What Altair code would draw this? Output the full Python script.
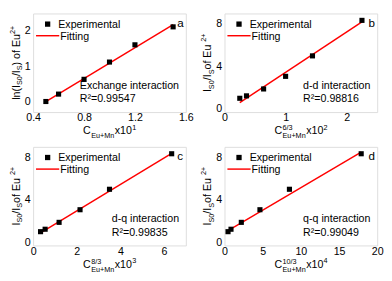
import altair as alt
import pandas as pd

FONT = "Liberation Sans"

# ---- data ----
conc_a = [0.5, 0.6, 0.8, 1.0, 1.2, 1.5]          # C(Eu+Mn) x10^1
ln_ratio = [0.0, 0.21, 0.63, 1.12, 1.61, 2.12]   # ln(Is0/Is)
conc_b = [0.25, 0.36, 0.64, 1.0, 1.44, 2.25]     # C^(6/3) x10^2
conc_c = [0.34, 0.55, 1.19, 2.15, 3.50, 6.35]    # C^(8/3) x10^3
conc_d = [0.46, 0.85, 2.2, 4.64, 8.5, 17.9]      # C^(10/3) x10^4
ratio = [1.0, 1.23, 1.88, 3.07, 5.0, 8.35]       # Is0/Is

fit_a_x = [0.5, 1.5]
fit_a_y = [0.0, 2.18]
fit_b_x = [0.25, 2.25]
fit_b_y = [0.6, 8.2]
fit_c_x = [0.34, 6.35]
fit_c_y = [0.88, 8.38]
fit_d_x = [0.46, 17.9]
fit_d_y = [1.1, 8.5]

interactions = ["Exchange interaction", "d-d interaction", "d-q interaction", "q-q interaction"]
r2_values = ["0.99547", "0.98816", "0.99835", "0.99049"]
letters = ["a", "b", "c", "d"]
x_domains = [[0.4, 1.6], [0, 2.5], [0, 7], [0, 20]]
x_ticks = [[0.4, 0.8, 1.2, 1.6], [0, 1, 2], [0, 2, 4, 6], [0, 5, 10, 15, 20]]
x_formats = [".1f", "d", "d", "d"]
y_domains = [[-0.3, 2.5], [-0.3, 9], [-0.3, 9], [-0.3, 9]]
y_ticks = [[0, 1, 2], [0, 4, 8], [0, 4, 8], [0, 4, 8]]
x_exponents = ["", "6/3", "8/3", "10/3"]
x_powers = ["1", "2", "3", "4"]
legend_labels = ["Experimental", "Fitting"]

W_PX = 158
H_PX = 102
MAIN = 11
SMALL = 7.5

CW = {'C': 722, 'E': 667, 'u': 556, '+': 584, 'M': 833, 'n': 556, 'x': 500,
      '/': 278, 'l': 222, '(': 333, ')': 333, 'I': 278, 'S': 667, 'o': 556,
      'f': 278, ' ': 278, '-': 333, 'd': 556, 'q': 556, 'i': 222, 't': 278,
      'e': 556, 'r': 333, 'a': 556, 'c': 500, 'h': 556, 'g': 556}


def tw(s, size):
    return sum(CW.get(ch, 556) for ch in s) * size / 1000.0


one = pd.DataFrame({"k": [0]})


def txt(s, x, y, size=MAIN, align="left", baseline="alphabetic", angle=0, color="black"):
    return alt.Chart(one).mark_text(
        text=s, font=FONT, fontSize=size, align=align, baseline=baseline,
        angle=angle, color=color
    ).encode(x=alt.value(x), y=alt.value(y))


def xtitle(sup, power):
    wC = tw("C", MAIN)
    wsub = tw("Eu+Mn", SMALL)
    wsup = tw(sup, SMALL) if sup else 0
    stack = max(wsub, wsup)
    wx = tw("x10", MAIN)
    wp = tw(power, SMALL)
    total = wC + stack + 1 + wx + wp
    x0 = W_PX / 2 - total / 2
    base = H_PX + 23
    layers = [txt("C", x0, base, MAIN)]
    xs = x0 + wC + 0.5
    layers.append(txt("Eu+Mn", xs, base + 4, SMALL))
    if sup:
        layers.append(txt(sup, xs, base - 4, SMALL))
    xx = x0 + wC + stack + 1
    layers.append(txt("x10", xx, base, MAIN))
    layers.append(txt(power, xx + wx + 0.3, base - 4.5, SMALL))
    return layers


def ytitle(parts):
    widths = [tw(t, MAIN if k == "m" else SMALL) for t, k in parts]
    total = sum(widths)
    y = H_PX / 2 + total / 2
    xb = -14
    layers = []
    for (t, k), w in zip(parts, widths):
        if k == "m":
            layers.append(txt(t, xb, y, MAIN, angle=270))
        elif k == "sub":
            layers.append(txt(t, xb + 3, y, SMALL, angle=270))
        else:
            layers.append(txt(t, xb - 5, y, SMALL, angle=270))
        y -= w
    return layers


def panel(i, xs, ys, fx, fy, yparts):
    pts = pd.DataFrame({"x": xs, "y": ys})
    fit = pd.DataFrame({"x": fx, "y": fy})
    xsc = alt.Scale(domain=x_domains[i], nice=False, zero=False)
    ysc = alt.Scale(domain=y_domains[i], nice=False, zero=False)
    xax = alt.Axis(values=x_ticks[i], format=x_formats[i], title=None, ticks=False,
                   domain=False, grid=False, labelFontSize=MAIN, labelFont=FONT,
                   labelColor="black", labelPadding=0, labelFlush=False, labelOverlap=False)
    yax = alt.Axis(values=y_ticks[i], format="d", title=None, ticks=False,
                   domain=False, grid=False, labelFontSize=MAIN, labelFont=FONT,
                   labelColor="black", labelPadding=3, labelFlush=False, labelOverlap=False)
    enc_x = alt.X("x:Q", scale=xsc, axis=xax)
    enc_y = alt.Y("y:Q", scale=ysc, axis=yax)
    line = alt.Chart(fit).mark_line(color="#ff0000", strokeWidth=1.5).encode(x=enc_x, y=enc_y)
    points = alt.Chart(pts).mark_point(shape="square", filled=True, color="black",
                                       size=28, opacity=1).encode(x=enc_x, y=enc_y)
    leg_sq = alt.Chart(one).mark_point(shape="square", filled=True, color="black",
                                       size=30, opacity=1).encode(x=alt.value(15), y=alt.value(11))
    leg_line = alt.Chart(one).mark_rule(color="#ff0000", strokeWidth=1.5).encode(
        x=alt.value(3), x2=alt.value(27), y=alt.value(23))
    ix = W_PX - 7 - tw(interactions[i], MAIN)
    layers = [
        line, points, leg_sq, leg_line,
        txt(legend_labels[0], 26, 12, baseline="middle"),
        txt(legend_labels[1], 28, 24, baseline="middle"),
        txt(interactions[i], ix, H_PX - 27, baseline="middle"),
        txt("R\u00b2=" + r2_values[i], ix, H_PX - 13, baseline="middle"),
        txt(letters[i], W_PX - 9, 10, size=12, baseline="middle"),
    ] + xtitle(x_exponents[i], x_powers[i]) + ytitle(yparts)
    return alt.layer(*layers).properties(width=W_PX, height=H_PX)


parts_ln = [("ln(I", "m"), ("S0", "sub"), ("/I", "m"), ("S", "sub"), (") of Eu", "m"), ("2+", "sup")]
parts_r = [("I", "m"), ("S0", "sub"), ("/I", "m"), ("S", "sub"), (" of Eu", "m"), ("2+", "sup")]

pa = panel(0, conc_a, ln_ratio, fit_a_x, fit_a_y, parts_ln)
pb = panel(1, conc_b, ratio, fit_b_x, fit_b_y, parts_r)
pc = panel(2, conc_c, ratio, fit_c_x, fit_c_y, parts_r)
pd_ = panel(3, conc_d, ratio, fit_d_x, fit_d_y, parts_r)

chart = alt.concat(pa, pb, pc, pd_, columns=2, spacing={"row": 6, "column": 5}).properties(
    padding=0
).configure_view(stroke="#999999", strokeWidth=1).configure(font=FONT)

chart.save("out.html", embed_options={"renderer": "svg", "actions": False})
